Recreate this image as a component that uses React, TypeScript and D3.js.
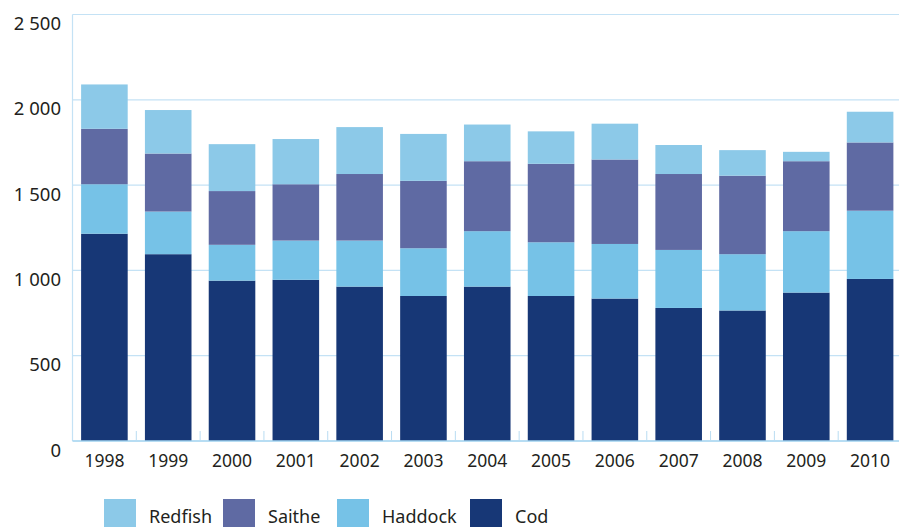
import React from 'react';
import * as d3 from 'd3';

const years = ['1998', '1999', '2000', '2001', '2002', '2003', '2004', '2005', '2006', '2007', '2008', '2009', '2010'];
const cod = [1215, 1095, 940, 945, 905, 850, 905, 850, 835, 780, 765, 870, 950];
const haddock = [290, 250, 210, 230, 270, 280, 325, 315, 320, 340, 330, 360, 400];
const saithe = [325, 340, 315, 330, 390, 395, 410, 460, 495, 445, 460, 410, 400];
const redfish = [260, 255, 275, 265, 275, 275, 215, 190, 210, 170, 150, 55, 180];
const yTicks = [0, 500, 1000, 1500, 2000, 2500];

const seriesKeys = ['Cod', 'Haddock', 'Saithe', 'Redfish'];
const colors: Record<string, string> = {
    Cod: '#173776',
    Haddock: '#76c2e7',
    Saithe: '#5f6aa3',
    Redfish: '#8cc9e8'
};
const legendOrder = ['Redfish', 'Saithe', 'Haddock', 'Cod'];
// legend swatch positions, laid out after the label widths
const legendLeft = [104, 223, 337, 470];

const W = 899;
const H = 527;
const font = '"Noto Sans", "Open Sans", sans-serif';

export default function App() {
    const rows = years.map((year, i) => ({
        year,
        Cod: cod[i],
        Haddock: haddock[i],
        Saithe: saithe[i],
        Redfish: redfish[i]
    }));

    const stacked = d3.stack<typeof rows[0]>().keys(seriesKeys)(rows);

    const x = d3.scaleBand<string>()
        .domain(years)
        .range([72.5, 902])
        .paddingInner(0.27)
        .paddingOuter(0.135);

    const y = d3.scaleLinear()
        .domain([0, 2500])
        .range([441, 14.5]);

    const left = 72.5;
    const gap = x.step() * x.paddingInner();

    return (
        <svg width={W} height={H} style={{ position: 'absolute', left: 0, top: 0, background: '#fff' }}
            fontFamily={font}>
            {/* grid */}
            {yTicks.filter((t) => t > 0).map((t) => (
                <line key={t} x1={left} x2={W} y1={y(t)} y2={y(t)} stroke="#c4e2f5" strokeWidth={1.2} />
            ))}
            <line x1={left} x2={left} y1={y(2500)} y2={y(0)} stroke="#c4e2f5" strokeWidth={1.2} />

            {/* bars */}
            {stacked.map((layer) => (
                <g key={layer.key} fill={colors[layer.key]}>
                    {layer.map((d, i) => (
                        <rect key={years[i]} x={x(years[i])} width={x.bandwidth()}
                            y={y(d[1])} height={y(d[0]) - y(d[1])} />
                    ))}
                </g>
            ))}

            {/* x axis */}
            <line x1={left} x2={W} y1={y(0)} y2={y(0)} stroke="#9fd2ef" strokeWidth={1.5} />
            {years.slice(1).map((yr) => (
                <line key={yr} x1={(x(yr) ?? 0) - gap / 2} x2={(x(yr) ?? 0) - gap / 2}
                    y1={y(0) - 10} y2={y(0)} stroke="#b9dcf2" strokeWidth={1} />
            ))}
            {years.map((yr) => (
                <text key={yr} x={(x(yr) ?? 0) + x.bandwidth() / 2} y={467} textAnchor="middle"
                    fontSize={17.5} fill="#231f20">{yr}</text>
            ))}

            {/* y labels */}
            {yTicks.map((t) => (
                <text key={t} x={61} y={y(t) + 15.5} textAnchor="end" fontSize={18.5} fill="#231f20">
                    {t >= 1000 ? d3.format(',')(t).replace(',', ' ') : t}
                </text>
            ))}

            {/* legend */}
            {legendOrder.map((k, i) => (
                <g key={k}>
                    <rect x={legendLeft[i]} y={499} width={32} height={30} fill={colors[k]} />
                    <text x={legendLeft[i] + 45} y={523} fontSize={18} fill="#231f20">{k}</text>
                </g>
            ))}
        </svg>
    );
}
